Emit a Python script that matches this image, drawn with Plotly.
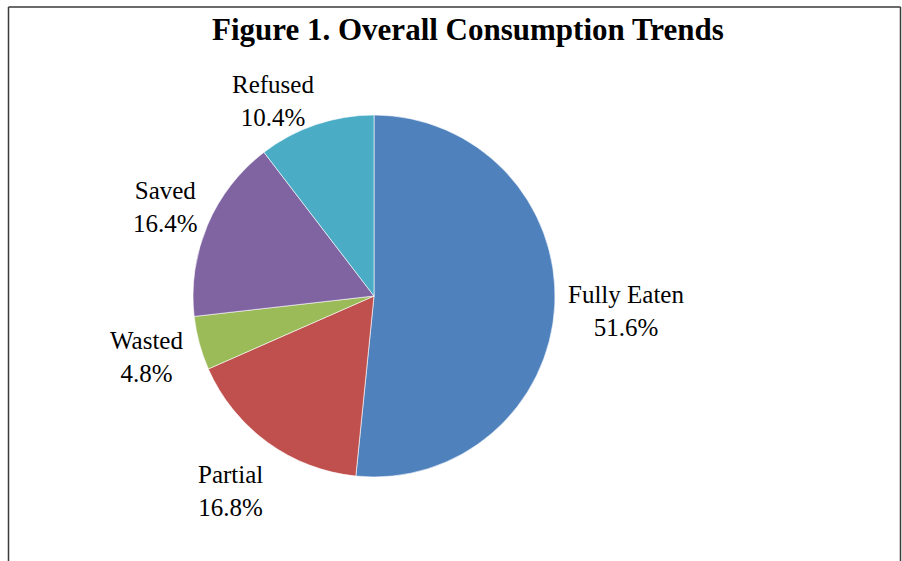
import math
import plotly.graph_objects as go

# Data
categories = ["Fully Eaten", "Partial", "Wasted", "Saved", "Refused"]
percents = [51.6, 16.8, 4.8, 16.4, 10.4]
colors = ["#4F81BD", "#C0504D", "#9BBB59", "#8064A2", "#4BACC6"]

W, H = 902, 561
cx, cy, r = 374, 296, 181  # pie centre / radius in px

fig = go.Figure(
    go.Pie(
        labels=categories,
        values=percents,
        sort=False,
        direction="clockwise",
        rotation=0,
        marker=dict(colors=colors, line=dict(color="#FFFFFF", width=0.6)),
        textinfo="none",
        hoverinfo="label+percent",
        domain=dict(x=[(cx - r) / W, (cx + r) / W], y=[1 - (cy + r) / H, 1 - (cy - r) / H]),
    )
)

# Labels outside each slice, placed along the slice's mid-angle (plus small nudges)
total = sum(percents)
cum = 0
label_dist = [1.31, 1.33, 1.30, 1.25, 1.22]
nudge = [(15, 3), (-2, 0), (0, 0), (0, 0), (-30, 14)]
for name, v, k, (ox, oy) in zip(categories, percents, label_dist, nudge):
    mid = (cum + v / 2) / total * 2 * math.pi
    cum += v
    lx = cx + k * r * math.sin(mid) + ox
    ly = cy - k * r * math.cos(mid) + oy
    fig.add_annotation(
        x=lx / W, y=1 - ly / H,
        xref="paper", yref="paper",
        text=f"{name}<br>{v:.1f}%",
        showarrow=False,
        xanchor="center", yanchor="middle",
        font=dict(family="Liberation Serif, Times New Roman, serif", size=25, color="#000000"),
    )

# Title
fig.add_annotation(
    x=(213 + 722) / 2 / W, y=1 - 30 / H,
    xref="paper", yref="paper",
    text="<b>Figure 1. Overall Consumption Trends</b>",
    showarrow=False,
    xanchor="center", yanchor="middle",
    font=dict(family="Liberation Serif, Times New Roman, serif", size=31, color="#000000"),
)

# Frame (left, top, right)
frame = dict(color="#3A3A3A", width=1.5)
x0, x1, ytop = 8.5 / W, 900.5 / W, 1 - 7 / H
fig.add_shape(type="line", xref="paper", yref="paper", x0=x0, x1=x0, y0=-0.05, y1=ytop, line=frame)
fig.add_shape(type="line", xref="paper", yref="paper", x0=x0, x1=x1, y0=ytop, y1=ytop, line=frame)
fig.add_shape(type="line", xref="paper", yref="paper", x0=x1, x1=x1, y0=-0.05, y1=ytop, line=frame)

fig.update_layout(
    width=W,
    height=H,
    margin=dict(t=0, b=0, l=0, r=0),
    paper_bgcolor="#FFFFFF",
    plot_bgcolor="#FFFFFF",
    showlegend=False,
)

fig.write_html(
    "out.html",
    config={"displayModeBar": False},
    post_script="document.body.style.margin='0';document.body.style.overflow='hidden';",
)
